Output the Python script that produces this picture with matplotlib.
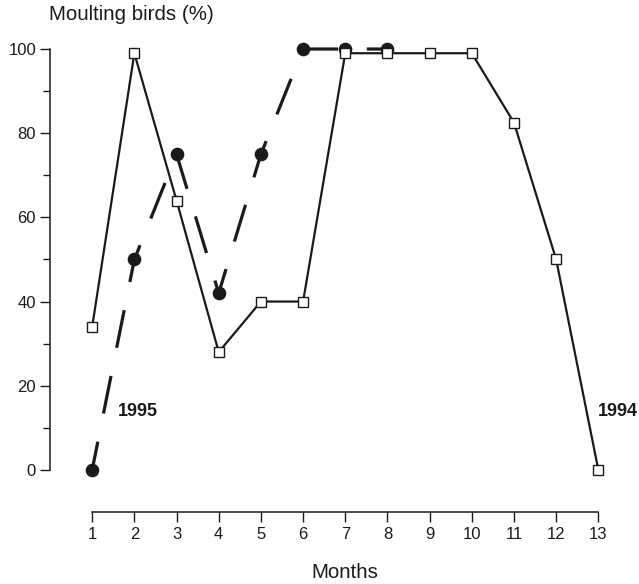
import matplotlib.pyplot as plt
import matplotlib

matplotlib.rcParams['font.family'] = ['Liberation Sans', 'DejaVu Sans']

months = list(range(1, 14))
y1994 = [34, 99, 64, 28, 40, 40, 99, 99, 99, 99, 82.5, 50, 0]
months95 = [1, 2, 3, 4, 5, 6, 7, 8]
y1995 = [0, 50, 75, 42, 75, 100, 100, 100]
yticks = [0, 20, 40, 60, 80, 100]
yminor = [10, 30, 50, 70, 90]

fig = plt.figure(figsize=(6.39, 5.84), dpi=100)
ax = fig.add_axes([50/639, (584-512)/584, (611-50)/639, (512-40.6)/584])
ink = '#1a1a1a'

ax.plot(months95, y1995, color=ink, lw=2.3, linestyle=(3, (12, 9)),
        marker='o', ms=8.8, mfc=ink, mec=ink, zorder=2)
ax.plot(months, y1994, color=ink, lw=1.6, marker='s', ms=7.5,
        mfc='white', mec=ink, mew=1.0, zorder=3)

ax.set_xlim(0, 13.3)
ax.set_ylim(-10, 102)
for s in ['top', 'right']:
    ax.spines[s].set_visible(False)
ax.spines['left'].set_bounds(0, 100)
ax.spines['bottom'].set_bounds(1, 13)
for s in ['left', 'bottom']:
    ax.spines[s].set_linewidth(1.1)
    ax.spines[s].set_color(ink)

ax.set_xticks(months)
ax.set_yticks(yticks)
ax.set_yticks(yminor, minor=True)
ax.tick_params(axis='both', which='major', length=7, width=1.0, color=ink,
               labelsize=12, labelcolor=ink, pad=3)
ax.tick_params(axis='x', pad=4)
ax.tick_params(axis='y', which='minor', length=5, width=1.0, color=ink)

ax.text(1.62, 13.8, '1995', fontsize=13, fontweight='bold', color=ink,
        va='center', ha='left')
ax.text(12.98, 13.8, '1994', fontsize=13, fontweight='bold', color=ink,
        va='center', ha='left')

fig.text(49/639, 1 - 15/584, 'Moulting birds (%)', fontsize=14.8, color=ink,
         ha='left', va='center')
fig.text(345/639, 1 - 572/584, 'Months', fontsize=14.8, color=ink,
         ha='center', va='center')

fig.savefig('out.png', dpi=100)
